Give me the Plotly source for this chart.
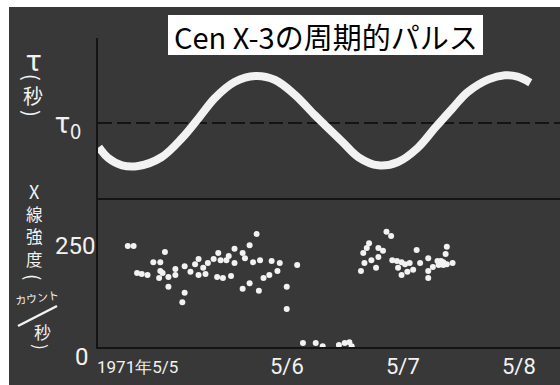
import plotly.graph_objects as go

# Pulse period curve: days after 1971-05-05 00:00 vs. (tau - tau0) in ms
curve_day = [-0.62, -0.54, -0.42, -0.28, -0.08, 0.10, 0.24, 0.38, 0.55, 0.73,
             0.90, 1.07, 1.24, 1.33, 1.48, 1.62, 1.79, 1.96, 2.13, 2.28,
             2.43, 2.56, 2.74, 2.88, 2.99, 3.10]
curve_delay = [-3.6, -5.2, -6.3, -6.4, -5.1, -2.2, 0.7, 3.7, 6.1, 7.0,
               6.4, 4.2, 1.2, -0.3, -2.8, -5.1, -6.3, -5.8, -3.7, -0.7,
               2.2, 4.6, 6.5, 7.1, 6.9, 6.0]

# X-ray intensity measurements (counts / s)
dot_day = [-0.37, -0.32, -0.05, -0.15, -0.09, -0.29, -0.25, -0.20, -0.09, -0.07,
           -0.10, -0.02, 0.04, 0.04, 0.12, 0.17, 0.21, 0.24, 0.24, 0.28,
           0.30, 0.32, 0.37, 0.41, 0.43, 0.48, 0.40, 0.45, -0.02, 0.12,
           0.10, 0.74, 0.68, 0.55, 0.62, 0.50, 0.64, 0.71, 0.77, 0.87,
           0.94, 1.09, 0.55, 0.52, 0.92, 0.85, 0.80, 0.68, 0.62, 0.76,
           1.00, 1.00, 1.14, 1.25, 1.31, 1.45, 1.50, 1.54, 1.56,
           1.86, 1.90, 1.71, 1.69, 1.66, 1.79, 1.83, 1.79, 1.73, 1.67,
           1.77, 1.64, 1.91, 1.95, 1.99, 2.02, 2.06, 2.12, 2.15, 1.96,
           2.04, 1.99, 2.09, 2.22, 2.22, 2.22, 2.26, 2.30, 2.33, 2.35,
           2.31, 2.35, 2.38, 2.43, 2.38, 2.37]
dot_rate = [250, 250, 235, 210, 210, 183, 181, 178, 188, 183,
            171, 173, 193, 178, 200, 186, 205, 218, 178, 196,
            181, 208, 218, 233, 215, 215, 173, 171, 149, 134,
            111, 280, 252, 243, 233, 225, 220, 210, 215, 213,
            208, 203, 208, 176, 188, 178, 171, 158, 144, 139,
            149, 94, 10, 10, 2, 5, 10, 12, 2,
            285, 275, 257, 245, 233, 245, 238, 223, 215, 208,
            196, 188, 215, 213, 210, 205, 208, 240, 208, 196,
            186, 178, 191, 220, 188, 171, 198, 213, 213, 210,
            203, 203, 205, 208, 248, 230]

date_ticks = [0, 1, 2, 3]
date_labels = ["1971年5/5", "5/6", "5/7", "5/8"]
rate_ticks = [0, 250]
rate_labels = ["0", "250"]

# page geometry (plot area in pixels)
W, H = 560, 385
L, R, T, B = 98, 560, 38, 347
SPLIT = 200  # pixel row separating the two panels


def fx(px):
    return (px - L) / (R - L)


def fy(py):
    return (B - py) / (B - T)


BG = "#383838"
AXIS = "#141414"
INK = "#f2f2f2"
NUM_FONT = "Roboto, Liberation Sans, sans-serif"
CJK_FONT = "Noto Sans CJK JP"

fig = go.Figure()

fig.add_trace(go.Scatter(
    x=curve_day, y=curve_delay, mode="lines",
    line=dict(color=INK, width=8, shape="spline", smoothing=1.0),
    xaxis="x", yaxis="y", hoverinfo="skip", cliponaxis=False,
))

fig.add_trace(go.Scatter(
    x=dot_day, y=dot_rate, mode="markers",
    marker=dict(color=INK, size=6, line=dict(width=0)),
    xaxis="x", yaxis="y2", hoverinfo="skip",
))

split_frac = fy(SPLIT)

fig.update_layout(
    width=W, height=H,
    margin=dict(l=L, r=W - R, t=T, b=H - B, pad=0),
    paper_bgcolor="white",
    plot_bgcolor="rgba(0,0,0,0)",
    showlegend=False,
    xaxis=dict(
        range=[-0.627, 3.356], anchor="y2",
        showline=True, linecolor=AXIS, linewidth=2, mirror=True,
        showgrid=False, zeroline=False, ticks="", showticklabels=False,
    ),
    yaxis=dict(
        domain=[split_frac, 1], range=[-11.46, 12.65], anchor="x",
        showline=True, linecolor=AXIS, linewidth=2,
        showgrid=True, gridcolor=AXIS, gridwidth=2, griddash="14px,5px",
        zeroline=False, ticks="",
        tickvals=[0], ticktext=["τ<sub>0</sub>"],
        tickfont=dict(family=CJK_FONT, size=29, color=INK),
        ticklabelstandoff=9,
    ),
    yaxis2=dict(
        domain=[0, split_frac], range=[0, 363.9], anchor="x",
        showline=True, linecolor=AXIS, linewidth=2,
        showgrid=False, zeroline=False, ticks="", showticklabels=False,
    ),
)

shapes = [
    # photographic backing
    dict(type="rect", xref="paper", yref="paper",
         x0=fx(9), x1=fx(561), y0=fy(386), y1=fy(7),
         fillcolor=BG, line=dict(width=0), layer="below"),
    # title plate
    dict(type="rect", xref="paper", yref="paper",
         x0=fx(168), x1=fx(483), y0=fy(55), y1=fy(15),
         fillcolor="white", line=dict(width=0), layer="above"),
    # fraction bar in the unit label
    dict(type="line", xref="paper", yref="paper",
         x0=fx(18), y0=fy(326), x1=fx(57), y1=fy(306),
         line=dict(color=INK, width=2.5), layer="above"),
]
fig.update_layout(shapes=shapes)

ann = []

ann.append(dict(
    text="Cen X-3の周期的パルス", xref="paper", yref="paper",
    x=fx(326), y=fy(36), xanchor="center", yanchor="middle",
    showarrow=False, font=dict(family=CJK_FONT, size=29, color="black"),
))


def glyph(ch, x, y, size, angle=0):
    ann.append(dict(text=ch, xref="paper", yref="paper",
                    x=fx(x), y=fy(y), xanchor="center", yanchor="middle",
                    showarrow=False, textangle=angle,
                    font=dict(family=CJK_FONT, size=size, color=INK)))


# vertical axis titles, one glyph per row; brackets turned sideways
glyph("τ", 33, 58, 30)
glyph("(", 33, 77, 20, 90)
glyph("秒", 33, 95, 20)
glyph(")", 33, 113, 20, 90)

glyph("X", 34, 191, 18)
for ch, y in zip(["線", "強", "度"], [213.5, 236, 258.5]):
    glyph(ch, 34, y, 16.5)
glyph("(", 35, 277, 19, 90)
glyph("秒", 42, 331, 17)
glyph(")", 42, 347, 17, 90)
ann.append(dict(text="カウント", xref="paper", yref="paper",
                x=fx(37), y=fy(297), xanchor="center", yanchor="middle",
                showarrow=False, textangle=-8,
                font=dict(family=CJK_FONT, size=11, color=INK)))

# count-rate tick labels
for v, t in zip(rate_ticks, rate_labels):
    ann.append(dict(text=t, xref="paper", yref="y2",
                    x=fx(97 if v else 91), y=v, xanchor="right", yanchor="middle",
                    yshift=0 if v else -10, showarrow=False,
                    font=dict(family=NUM_FONT, size=24, color=INK)))

# date labels
for v, t in zip(date_ticks, date_labels):
    first = v == date_ticks[0]
    ann.append(dict(text=t, xref="x", yref="paper",
                    x=v, y=fy(367), xanchor="right" if first else "center",
                    yanchor="middle", xshift=9 if first else 0,
                    showarrow=False,
                    font=dict(family=NUM_FONT, size=17 if first else 22,
                              color=INK)))

fig.update_layout(annotations=ann)

fig.write_html("out.html")
